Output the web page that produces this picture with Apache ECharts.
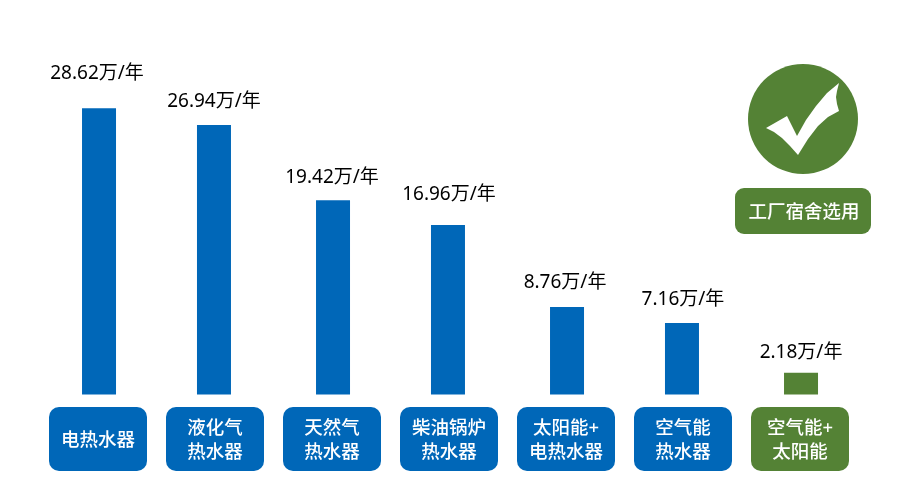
<!DOCTYPE html>
<html>
<head>
<meta charset="utf-8">
<style>
    html, body { margin: 0; padding: 0; background: #fff; }
    #chart { width: 900px; height: 490px; }
</style>
</head>
<body>
<div id="chart"></div>
<script src="https://cdn.jsdelivr.net/npm/echarts@6/dist/echarts.min.js"></script>
<script>
    var categories = ['电热水器', '液化气\n热水器', '天然气\n热水器', '柴油锅炉\n热水器', '太阳能+\n电热水器', '空气能\n热水器', '空气能+\n太阳能'];
    var costs = [28.62, 26.94, 19.42, 16.96, 8.76, 7.16, 2.18];
    var badgeText = '工厂宿舍选用';

    var BLUE = '#0067b8';
    var GREEN = '#548235';
    var FONT = '"Noto Sans", "Noto Sans CJK SC", sans-serif';
    // gap between each bar top and its label, the source spaces them by hand
    var labelGaps = [25, 14, 13, 21, 15, 14, 11];
    var labelShifts = [-2, 0, -1, 1, -2, 1, 0];
    var lastIndex = costs.length - 1;
    // outline of the white tick inside the circle
    var tickOutline = [
        [766, 128], [787, 116], [797, 136], [806, 120], [816, 106], [827, 93], [839, 83],
        [837, 91], [836, 97], [837, 104], [839, 111], [828, 117], [818, 126], [808, 139],
        [798, 155], [790, 146], [782, 138], [774, 132]
    ];

    var myChart = echarts.init(document.getElementById('chart'));

    function pickData(odd) {
        return costs.map(function (v, i) {
            if ((i % 2 === 1) !== odd) {
                return null;
            }
            return {
                value: v,
                itemStyle: { color: i === lastIndex ? GREEN : BLUE },
                label: { distance: labelGaps[i], offset: [labelShifts[i], 0] }
            };
        });
    }

    function makeSeries(odd) {
        return {
            type: 'bar',
            barWidth: 34,
            barGap: '-106%',
            data: pickData(odd),
            label: {
                show: true,
                position: 'top',
                color: '#000',
                fontFamily: FONT,
                fontSize: 19,
                formatter: function (p) {
                    return p.value + '万/年';
                }
            }
        };
    }

    function boxStyle(color, padding, radius, height) {
        return {
            width: 98,
            height: height,
            padding: padding,
            align: 'center',
            color: '#fff',
            fontFamily: FONT,
            fontSize: 18.5,
            fontWeight: 500,
            backgroundColor: color,
            borderRadius: radius
        };
    }

    var option = {
        backgroundColor: '#fff',
        animation: false,
        grid: { left: 39.5, top: 94.5, width: 819, height: 300 },
        xAxis: {
            type: 'category',
            data: categories,
            axisLine: { show: false },
            axisTick: { show: false },
            axisLabel: {
                interval: 0,
                margin: 12.5,
                formatter: function (name, index) {
                    var lines = name.split('\n');
                    var tag = index === lastIndex ? 'g' : 'b';
                    if (lines.length === 1) {
                        return '{' + tag + '|' + name + '}';
                    }
                    return '{' + tag + '1|' + lines[0] + '}\n{' + tag + '2|' + lines[1] + '}';
                },
                rich: {
                    b: boxStyle(BLUE, [4, 0, 0, 0], 10, 60),
                    b1: boxStyle(BLUE, [12, 0, 0, 0], [10, 10, 0, 0], 20),
                    b2: boxStyle(BLUE, [2, 0, 6, 0], [0, 0, 10, 10], 24),
                    g1: boxStyle(GREEN, [12, 0, 0, 0], [10, 10, 0, 0], 20),
                    g2: boxStyle(GREEN, [2, 0, 6, 0], [0, 0, 10, 10], 24)
                }
            }
        },
        yAxis: {
            type: 'value',
            min: 0,
            max: 30,
            show: false
        },
        series: [makeSeries(false), makeSeries(true)],
        graphic: [
            { type: 'circle', shape: { cx: 803, cy: 119, r: 55 }, style: { fill: GREEN } },
            { type: 'polygon', shape: { points: tickOutline }, style: { fill: '#fff' } },
            { type: 'rect', shape: { x: 735, y: 188, width: 136, height: 46, r: 9 }, style: { fill: GREEN } },
            {
                type: 'text',
                x: 804,
                y: 213,
                style: {
                    text: badgeText,
                    fill: '#fff',
                    font: '500 18.5px ' + FONT,
                    textAlign: 'center',
                    textVerticalAlign: 'middle'
                }
            }
        ]
    };

    myChart.setOption(option);
</script>
</body>
</html>
